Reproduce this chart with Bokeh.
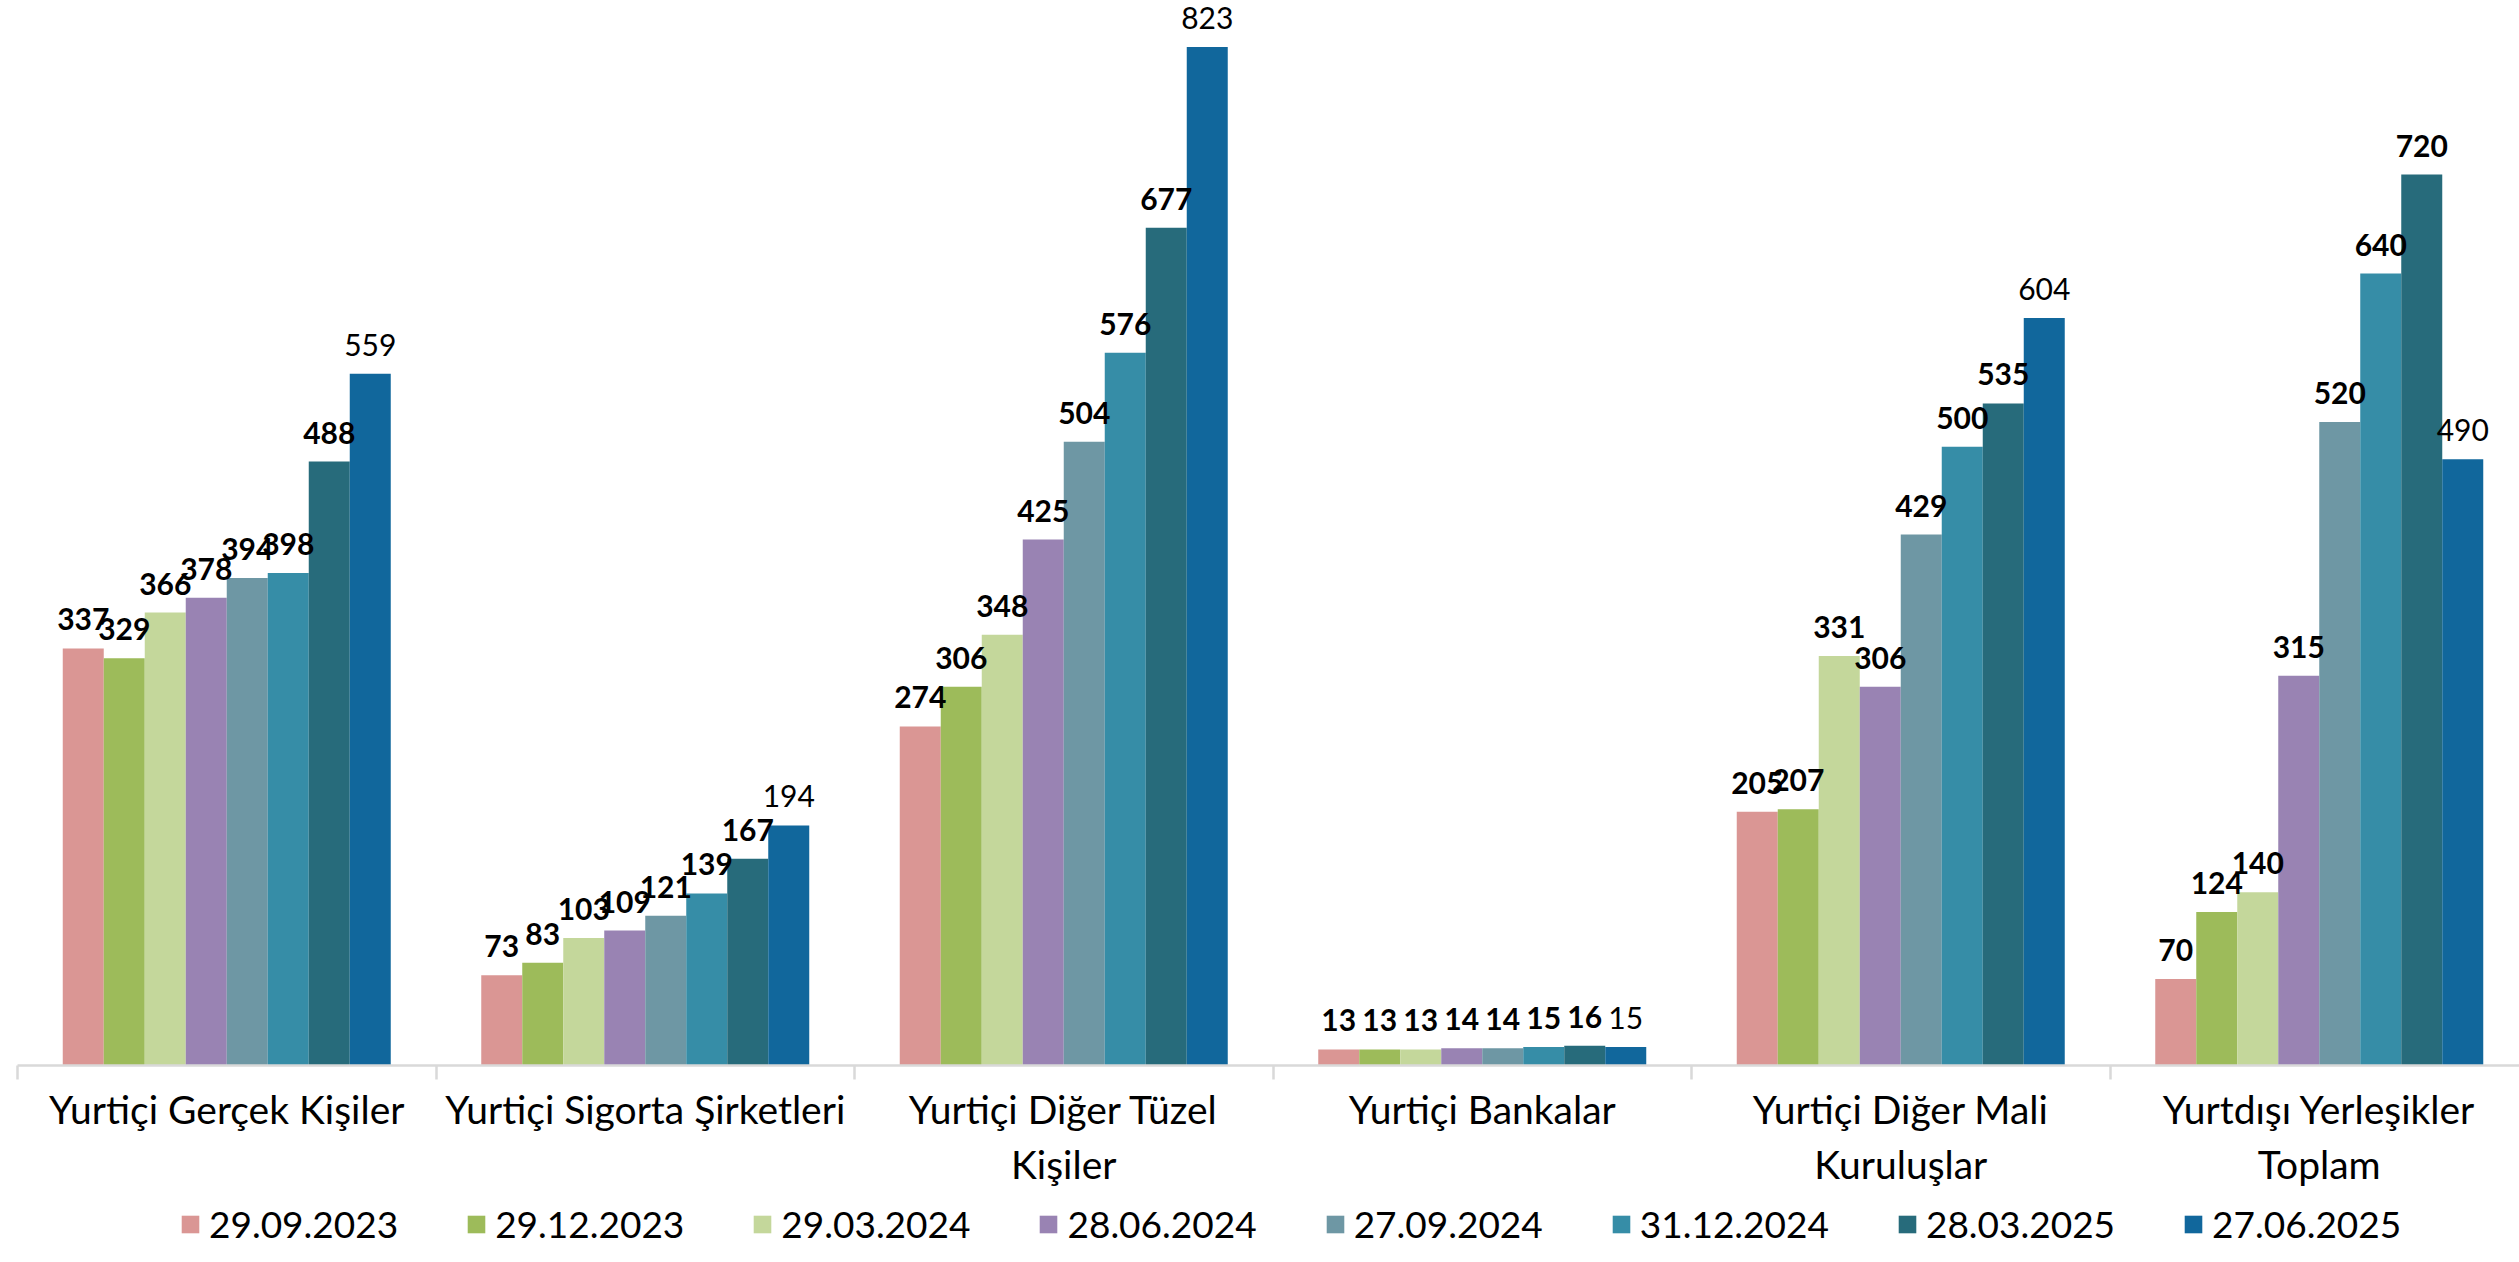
from bokeh.plotting import figure
from bokeh.layouts import column
from bokeh.models import FixedTicker, Legend, LegendItem, ColumnDataSource, Range1d
from bokeh.embed import file_html
from bokeh.resources import INLINE
from bokeh.core.properties import value

categories = [
    "Yurtiçi Gerçek Kişiler",
    "Yurtiçi Sigorta Şirketleri",
    "Yurtiçi Diğer Tüzel\nKişiler",
    "Yurtiçi Bankalar",
    "Yurtiçi Diğer Mali\nKuruluşlar",
    "Yurtdışı Yerleşikler\nToplam",
]
dates = ["29.09.2023", "29.12.2023", "29.03.2024", "28.06.2024",
         "27.09.2024", "31.12.2024", "28.03.2025", "27.06.2025"]

v_2023_09 = [337, 73, 274, 13, 205, 70]
v_2023_12 = [329, 83, 306, 13, 207, 124]
v_2024_03 = [366, 103, 348, 13, 331, 140]
v_2024_06 = [378, 109, 425, 14, 306, 315]
v_2024_09 = [394, 121, 504, 14, 429, 520]
v_2024_12 = [398, 139, 576, 15, 500, 640]
v_2025_03 = [488, 167, 677, 16, 535, 720]
v_2025_06 = [559, 194, 823, 15, 604, 490]
series = [v_2023_09, v_2023_12, v_2024_03, v_2024_06,
          v_2024_09, v_2024_12, v_2025_03, v_2025_06]

colors = ["#DA9694", "#9DBB5A", "#C4D79B", "#9983B3",
          "#6E97A4", "#368DA7", "#276B7B", "#11679C"]

CAT_PX = 418.5
W = 2519
LEFT = 17
FRAME_W = W - LEFT
FRAME_H = 1065
BOTTOM = 130
LEG_H = 1262 - FRAME_H - BOTTOM

p = figure(frame_width=FRAME_W, frame_height=FRAME_H,
           x_range=Range1d(0, FRAME_W / CAT_PX), y_range=Range1d(0, FRAME_H / 1.2375),
           output_backend="svg", toolbar_location=None, y_axis_location=None,
           min_border_left=LEFT, min_border_right=0, min_border_top=0,
           min_border_bottom=BOTTOM)
p.grid.visible = False
p.outline_line_color = None
p.background_fill_color = "white"

bar_w = 41 / CAT_PX
n = len(series)
sources = []
for j, (vals, c) in enumerate(zip(series, colors)):
    xs = [i + 0.5 + (j - (n - 1) / 2) * bar_w for i in range(len(categories))]
    src = ColumnDataSource(dict(x=xs, top=vals, lbl=[str(v) for v in vals]))
    sources.append(src)
    p.vbar(x="x", top="top", bottom=0, width=bar_w, source=src,
           fill_color=c, line_color=None)

for j, src in enumerate(sources):
    p.text(x="x", y="top", text="lbl", source=src, text_align="center",
           text_baseline="alphabetic", y_offset=-29,
           text_font=value("Lato"), text_font_size="30px",
           text_font_style="bold" if j < n - 1 else "normal",
           text_color="black")

ax = p.xaxis[0]
centers = [i + 0.5 for i in range(len(categories))]
ax.ticker = FixedTicker(ticks=centers, minor_ticks=list(range(len(categories) + 1)))
ax.major_label_overrides = {c: lab for c, lab in zip(centers, categories)}
ax.axis_line_color = "#D9D9D9"
ax.axis_line_width = 2.5
ax.major_tick_line_color = None
ax.major_tick_out = 0
ax.major_tick_in = 0
ax.minor_tick_line_color = "#D9D9D9"
ax.minor_tick_line_width = 2.5
ax.minor_tick_in = 0
ax.minor_tick_out = 14
ax.major_label_text_font = "Lato"
ax.major_label_text_font_size = "39px"
ax.major_label_text_color = "black"
ax.major_label_standoff = 6

# legend strip below the chart
pl = figure(width=W, height=LEG_H, x_range=Range1d(0, 1), y_range=Range1d(0, 1),
            output_backend="svg", toolbar_location=None,
            x_axis_location=None, y_axis_location=None,
            min_border_left=0, min_border_right=0, min_border_top=0,
            min_border_bottom=0)
pl.grid.visible = False
pl.outline_line_color = None
items = []
for d, c in zip(dates, colors):
    r = pl.vbar(x=[-10], top=[-10], bottom=[-11], width=0.1, fill_color=c, line_color=None)
    items.append(LegendItem(label=d, renderers=[r]))

legend = Legend(items=items, orientation="horizontal", location=(162, 16),
                glyph_width=22, glyph_height=22, label_standoff=8, spacing=67,
                label_text_font="Lato", label_text_font_size="37px",
                label_text_color="black", border_line_color=None,
                background_fill_alpha=0, padding=0, margin=0)
pl.add_layout(legend, "center")

layout = column(p, pl, spacing=0)
open("out.html", "w").write(file_html(layout, INLINE))
